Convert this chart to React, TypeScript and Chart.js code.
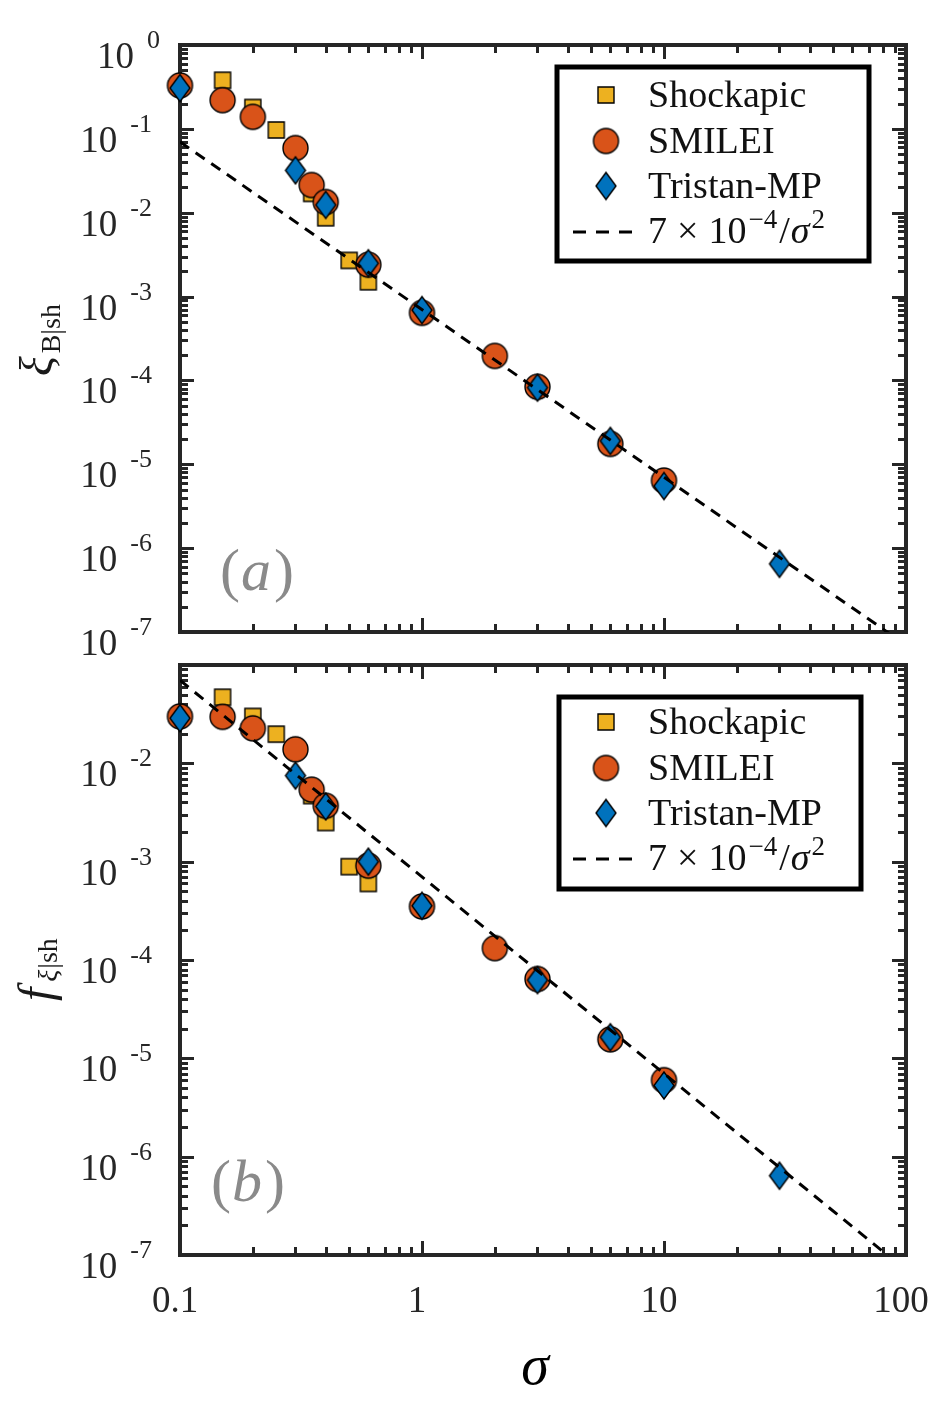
import { useEffect, useRef } from 'react';
import { Chart, registerables } from 'chart.js';

Chart.register(...registerables);

const SERIF = '"Liberation Serif", "Times New Roman", serif';
const INK = '#262626';
const TAG_GRAY = '#8a8a8a';

// Magnetization σ of each run, per code
const sigmaShockapic = [0.15, 0.2, 0.25, 0.35, 0.4, 0.5, 0.6];
const sigmaSmilei = [0.1, 0.15, 0.2, 0.3, 0.35, 0.4, 0.6, 1, 2, 3, 6, 10];
const sigmaTristan = [0.1, 0.3, 0.4, 0.6, 1, 3, 6, 10, 30];

// Panel (a): ξ_B|sh
const xiShockapic = [0.38, 0.18, 0.097, 0.017, 0.0087, 0.0027, 0.0015];
const xiSmilei = [0.33, 0.22, 0.139, 0.059, 0.0214, 0.0134, 0.0024, 6.4e-4, 1.96e-4, 8.4e-5, 1.75e-5, 6.4e-6];
const xiTristan = [0.307, 0.032, 0.0124, 0.0025, 6.9e-4, 8.2e-5, 1.9e-5, 5.5e-6, 6.5e-7];

// Panel (b): f_ξ|sh
const fShockapic = [0.047, 0.03, 0.0198, 0.0047, 0.0025, 8.9e-4, 6.0e-4];
const fSmilei = [0.03, 0.0297, 0.0227, 0.0139, 0.0054, 0.0037, 9.1e-4, 3.5e-4, 1.32e-4, 6.4e-5, 1.56e-5, 6.0e-6];
const fTristan = [0.0288, 0.0075, 0.00364, 1.0e-3, 3.56e-4, 6.25e-5, 1.64e-5, 5.3e-6, 6.4e-7];

// Reference scaling 7e-4 / σ² evaluated at the axis ends
const fitSigma = [0.1, 100];
const fitValue = [7e-2, 7e-8];

const xMajorTicks = [0.1, 1, 10, 100];
const xTickLabels = ['0.1', '1', '10', '100'];
const yLabelExpTop = [0, -1, -2, -3, -4, -5, -6, -7];
const yLabelExpBottom = [-2, -3, -4, -5, -6, -7];

const seriesNames = ['Shockapic', 'SMILEI', 'Tristan-MP'];
const seriesColors = ['#EDB120', '#D95319', '#0072BD'];

type MarkerKind = 'square' | 'circle' | 'diamond';
const seriesMarkers: MarkerKind[] = ['square', 'circle', 'diamond'];

function makeMarker(kind: MarkerKind, fill: string): HTMLCanvasElement {
  const dims = kind === 'square' ? [16, 16] : kind === 'circle' ? [25, 25] : [20, 27];
  const pad = 2;
  const c = document.createElement('canvas');
  c.width = dims[0] + pad * 2;
  c.height = dims[1] + pad * 2;
  const g = c.getContext('2d')!;
  g.fillStyle = fill;
  g.strokeStyle = '#000';
  g.lineWidth = 1.4;
  g.beginPath();
  const cx = c.width / 2;
  const cy = c.height / 2;
  if (kind === 'square') {
    g.rect(pad, pad, dims[0], dims[1]);
  } else if (kind === 'circle') {
    g.arc(cx, cy, dims[0] / 2, 0, Math.PI * 2);
  } else {
    g.moveTo(cx, pad);
    g.lineTo(cx + dims[0] / 2, cy);
    g.lineTo(cx, pad + dims[1]);
    g.lineTo(cx - dims[0] / 2, cy);
    g.closePath();
  }
  g.fill();
  g.stroke();
  return c;
}

type Panel = {
  top: number;
  height: number;
  padTop: number;
  padBottom: number;
  yMin: number;
  yMax: number;
  labelExps: number[];
  values: number[][];
  legendBox: [number, number, number, number];
  legendRows: number[];
  tag: string;
  tagX: number;
  tagY: number;
  title: 'xi' | 'f';
  titleBottom: number;
  showXLabels: boolean;
};

const PANELS: Panel[] = [
  {
    top: 0,
    height: 662,
    padTop: 45,
    padBottom: 30,
    yMin: 1e-7,
    yMax: 1,
    labelExps: yLabelExpTop,
    values: [xiShockapic, xiSmilei, xiTristan],
    legendBox: [557, 67, 869, 261],
    legendRows: [95, 141, 186, 231],
    tag: 'a',
    tagX: 257,
    tagY: 590,
    title: 'xi',
    titleBottom: 376,
    showXLabels: false,
  },
  {
    top: 662,
    height: 743,
    padTop: 3,
    padBottom: 150,
    yMin: 1e-7,
    yMax: 0.1,
    labelExps: yLabelExpBottom,
    values: [fShockapic, fSmilei, fTristan],
    legendBox: [559, 697, 861, 889],
    legendRows: [722, 768, 813, 858],
    tag: 'b',
    tagX: 248,
    tagY: 1201,
    title: 'f',
    titleBottom: 1001,
    showXLabels: true,
  },
];

const LEFT = 180;
const RIGHT_PAD = 40;
const MAJOR = 14;
const MINOR = 8;

function minorValues(lo: number, hi: number): number[] {
  const out: number[] = [];
  const e0 = Math.round(Math.log10(lo));
  const e1 = Math.round(Math.log10(hi));
  for (let e = e0; e < e1; e++) {
    for (let k = 2; k <= 9; k++) out.push(k * Math.pow(10, e));
  }
  return out;
}

function framePlugin(p: Panel, markers: HTMLCanvasElement[]) {
  const off = p.top;
  return {
    id: 'panelFrame',
    beforeDatasetsDraw(chart: any) {
      const { ctx, chartArea: a, scales } = chart;
      const xs = scales.x;
      const ys = scales.y;
      ctx.save();
      ctx.strokeStyle = INK;
      ctx.lineCap = 'butt';
      const seg = (x0: number, y0: number, x1: number, y1: number) => {
        ctx.beginPath();
        ctx.moveTo(x0, y0);
        ctx.lineTo(x1, y1);
        ctx.stroke();
      };
      ctx.lineWidth = 3;
      const xTicks = [
        ...xMajorTicks.map((v) => [v, MAJOR]),
        ...minorValues(0.1, 100).map((v) => [v, MINOR]),
      ];
      for (const [v, len] of xTicks) {
        const px = Math.round(xs.getPixelForValue(v)) + 0.5;
        seg(px, a.top, px, a.top + len);
        seg(px, a.bottom, px, a.bottom - len);
      }
      const yMajor: number[] = [];
      for (let e = Math.round(Math.log10(p.yMin)); e <= Math.round(Math.log10(p.yMax)); e++) yMajor.push(Math.pow(10, e));
      const yTicks = [
        ...yMajor.map((v) => [v, MAJOR]),
        ...minorValues(p.yMin, p.yMax).map((v) => [v, MINOR]),
      ];
      for (const [v, len] of yTicks) {
        const py = Math.round(ys.getPixelForValue(v)) + 0.5;
        seg(a.left, py, a.left + len, py);
        seg(a.right, py, a.right - len, py);
      }
      ctx.lineWidth = 4;
      ctx.strokeRect(a.left, a.top, a.right - a.left, a.bottom - a.top);
      ctx.restore();
    },
    afterDraw(chart: any) {
      const { ctx, scales } = chart;
      const xs = scales.x;
      const ys = scales.y;
      ctx.save();
      ctx.fillStyle = INK;
      ctx.textBaseline = 'alphabetic';

      // y tick labels: 10 followed by a raised exponent
      for (const e of p.labelExps) {
        const py = ys.getPixelForValue(Math.pow(10, e));
        const expStr = e === 0 ? '0' : '-' + Math.abs(e);
        ctx.font = `26px ${SERIF}`;
        ctx.textAlign = 'left';
        const ew = ctx.measureText(expStr).width;
        const ex = (e === 0 ? 160 : 152) - ew;
        ctx.fillText(expStr, ex, py + 3);
        ctx.font = `37px ${SERIF}`;
        ctx.textAlign = 'right';
        ctx.fillText('10', ex - 13, py + 23);
      }

      // x tick labels and axis title
      if (p.showXLabels) {
        ctx.font = `37px ${SERIF}`;
        ctx.textAlign = 'center';
        xMajorTicks.forEach((v, i) => {
          const px = xs.getPixelForValue(v);
          ctx.fillText(xTickLabels[i], px - 5, 1312 - off);
        });
        ctx.fillStyle = '#000';
        ctx.font = `italic 56px ${SERIF}`;
        ctx.fillText('σ', 535, 1384 - off);
      }

      // rotated y-axis title
      ctx.save();
      ctx.fillStyle = '#1a1a1a';
      ctx.translate(52, p.titleBottom - off);
      ctx.rotate(-Math.PI / 2);
      ctx.textAlign = 'left';
      if (p.title === 'xi') {
        ctx.font = `italic 46px ${SERIF}`;
        ctx.fillText('ξ', 0, 0);
        const x = ctx.measureText('ξ').width + 3;
        ctx.font = `28px ${SERIF}`;
        ctx.fillText('B|sh', x, 8);
      } else {
        ctx.font = `italic 48px ${SERIF}`;
        ctx.fillText('f', 0, 0);
        let x = ctx.measureText('f').width + 6;
        ctx.font = `italic 28px ${SERIF}`;
        ctx.fillText('ξ', x, 5);
        x += ctx.measureText('ξ').width + 1;
        ctx.font = `28px ${SERIF}`;
        ctx.fillText('|sh', x, 5);
      }
      ctx.restore();

      // panel tag such as (a)
      ctx.fillStyle = TAG_GRAY;
      ctx.font = `60px ${SERIF}`;
      const wOpen = ctx.measureText('(').width;
      const wClose = ctx.measureText(')').width;
      ctx.font = `italic 60px ${SERIF}`;
      const wTag = ctx.measureText(p.tag).width;
      let tx = p.tagX - (wOpen + wTag + wClose + 4) / 2;
      const ty = p.tagY - off;
      ctx.textAlign = 'left';
      ctx.font = `60px ${SERIF}`;
      ctx.fillText('(', tx, ty);
      tx += wOpen + 1;
      ctx.font = `italic 60px ${SERIF}`;
      ctx.fillText(p.tag, tx, ty);
      tx += wTag + 3;
      ctx.font = `60px ${SERIF}`;
      ctx.fillText(')', tx, ty);

      // legend
      const [bx0, by0, bx1, by1] = p.legendBox;
      ctx.fillStyle = '#fff';
      ctx.fillRect(bx0, by0 - off, bx1 - bx0, by1 - by0);
      ctx.strokeStyle = '#000';
      ctx.lineWidth = 5;
      ctx.strokeRect(bx0, by0 - off, bx1 - bx0, by1 - by0);
      const textX = 648;
      const markX = 606;
      ctx.fillStyle = '#111';
      for (let i = 0; i < 3; i++) {
        const cy = p.legendRows[i] - off;
        const m = markers[i];
        ctx.drawImage(m, markX - m.width / 2, cy - m.height / 2);
        ctx.font = `38px ${SERIF}`;
        ctx.fillText(seriesNames[i], textX, cy + 12);
      }
      const fy = p.legendRows[3] - off;
      ctx.strokeStyle = '#000';
      ctx.lineWidth = 3;
      ctx.setLineDash([13, 10]);
      ctx.beginPath();
      ctx.moveTo(573, fy + 1);
      ctx.lineTo(638, fy + 1);
      ctx.stroke();
      ctx.setLineDash([]);
      let lx = textX;
      const base = fy + 12;
      const part = (s: string, font: string, dy: number, gap = 0) => {
        ctx.font = font;
        ctx.fillText(s, lx, base + dy);
        lx += ctx.measureText(s).width + gap;
      };
      part('7', `38px ${SERIF}`, 0, 10);
      part('×', `38px ${SERIF}`, 0, 10);
      part('10', `38px ${SERIF}`, 0, 2);
      part('−4', `27px ${SERIF}`, -15, 2);
      part('/', `38px ${SERIF}`, 0, 1);
      part('σ', `italic 38px ${SERIF}`, 0, 2);
      part('2', `27px ${SERIF}`, -15);
      ctx.restore();
    },
  };
}

function PanelChart({ panel }: { panel: Panel }) {
  const ref = useRef<HTMLCanvasElement | null>(null);
  useEffect(() => {
    if (!ref.current) return;
    const markers = seriesMarkers.map((k, i) => makeMarker(k, seriesColors[i]));
    const sigmas = [sigmaShockapic, sigmaSmilei, sigmaTristan];
    const scatterSets = [0, 1, 2].map((i) => ({
      type: 'scatter' as const,
      label: seriesNames[i],
      data: sigmas[i].map((s, j) => ({ x: s, y: panel.values[i][j] })),
      pointStyle: markers[i],
      pointRadius: 13,
      pointHoverRadius: 13,
      clip: false as any,
      order: 3 - i,
    }));
    const fitSet = {
      type: 'line' as const,
      label: '7e-4/σ²',
      data: fitSigma.map((s, j) => ({ x: s, y: fitValue[j] })),
      borderColor: '#000',
      borderWidth: 3,
      borderDash: [11, 8],
      pointRadius: 0,
      fill: false,
      tension: 0,
      order: 0,
    };
    const chart = new Chart(ref.current, {
      type: 'scatter',
      data: { datasets: [fitSet as any, ...scatterSets] },
      options: {
        animation: false,
        responsive: false,
        maintainAspectRatio: false,
        events: [],
        layout: {
          autoPadding: false,
          padding: { left: LEFT, right: RIGHT_PAD, top: panel.padTop, bottom: panel.padBottom },
        },
        plugins: { legend: { display: false }, tooltip: { enabled: false } },
        scales: {
          x: { type: 'logarithmic', min: 0.1, max: 100, display: false },
          y: { type: 'logarithmic', min: panel.yMin, max: panel.yMax, display: false },
        },
      },
      plugins: [framePlugin(panel, markers)],
    });
    return () => chart.destroy();
  }, [panel]);
  return (
    <canvas
      ref={ref}
      width={946}
      height={panel.height}
      style={{ position: 'absolute', left: 0, top: panel.top, width: 946, height: panel.height }}
    />
  );
}

export default function App() {
  return (
    <div style={{ position: 'absolute', left: 0, top: 0, width: 946, height: 1405, background: '#fff' }}>
      {PANELS.map((p) => (
        <PanelChart key={p.tag} panel={p} />
      ))}
    </div>
  );
}
